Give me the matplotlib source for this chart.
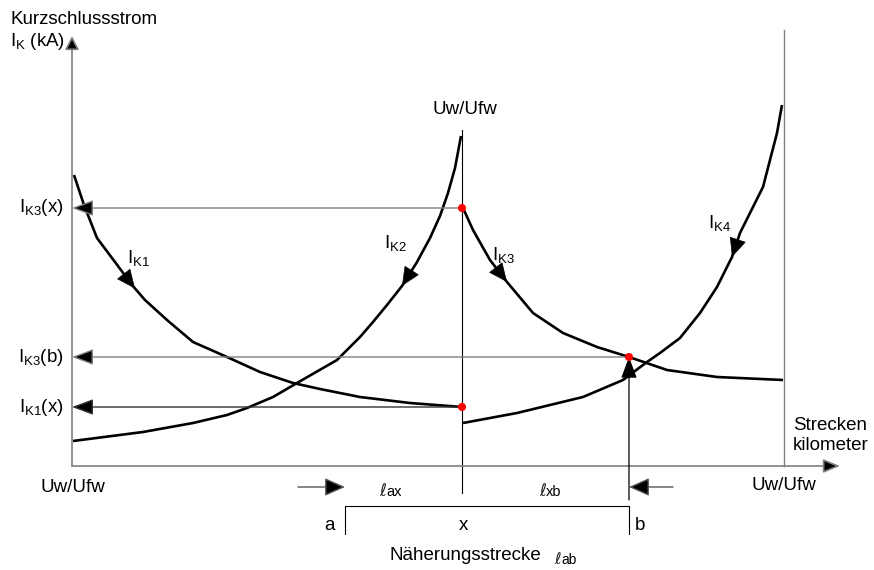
import numpy as np
import matplotlib
matplotlib.use("Agg")
import matplotlib.pyplot as plt

plt.rcParams['font.family'] = ['Liberation Sans', 'DejaVu Sans']
plt.rcParams['mathtext.fontset'] = 'custom'
plt.rcParams['mathtext.rm'] = 'Liberation Sans'
plt.rcParams['mathtext.it'] = 'Liberation Sans'

# curves (x = Streckenkilometer, y = Kurzschlussstrom)
ik1_x = [2, 12, 25, 43, 60, 73, 95, 121, 155, 188, 221, 248, 288, 338, 390]
ik1_y = [291, 261, 228, 204, 181, 166, 146, 124, 109, 94, 83, 77, 69, 63, 59]
ik2_x = [1, 71, 121, 155, 175, 201, 225, 265, 288, 301, 315, 330, 345, 358, 368, 376, 383, 389]
ik2_y = [25, 34, 43, 51, 58, 69, 83, 106, 129, 144, 161, 180, 204, 228, 250, 273, 298, 330]
ik3_x = [391, 401, 418, 435, 461, 491, 525, 557, 595, 645, 711]
ik3_y = [258, 236, 206, 184, 153, 133, 119, 109, 96, 89, 86]
ik4_x = [391, 445, 511, 551, 575, 588, 608, 628, 645, 660, 668, 681, 691, 698, 705, 710]
ik4_y = [43, 53, 69, 86, 104, 113, 128, 153, 179, 209, 233, 259, 279, 306, 333, 361]

x_pos = 390      # Punkt x (Uw/Ufw)
b_pos = 557      # Punkt b
end_pos = 712    # Uw/Ufw rechts
ik3_x_val = 258  # I_K3(x)
ik3_b_val = 109  # I_K3(b)
ik1_x_val = 59   # I_K1(x)

fig = plt.figure(figsize=(8.74, 5.70), dpi=100)
ax = fig.add_axes([0, 0, 1, 1])
ax.set_xlim(-72, 802)
ax.set_ylim(-104, 466)
ax.axis('off')

FS = 13.5
grey = '#7f7f7f'


def arrow(p_from, p_to, color='k', hl=0.94, hw=0.35, lw=0.9, ms=14):
    ax.annotate('', xy=p_to, xytext=p_from,
                arrowprops=dict(arrowstyle=f'-|>,head_length={hl},head_width={hw}',
                                color=color, lw=lw, mutation_scale=ms,
                                shrinkA=0, shrinkB=0, fc='k', ec=color))


def curve_arrow(xs, ys, x_tip, dx):
    y_tip = np.interp(x_tip, xs, ys)
    y_tail = np.interp(x_tip - dx, xs, ys)
    ax.annotate('', xy=(x_tip, y_tip), xytext=(x_tip - dx, y_tail),
                arrowprops=dict(arrowstyle='-|>,head_length=1.0,head_width=0.45',
                                color='k', lw=0.5, mutation_scale=12.5,
                                shrinkA=0, shrinkB=0))


# axes
arrow((0, 0), (0, 430), color=grey, hl=0.75, hw=0.38, lw=1.2, ms=11)
arrow((0, 0), (768, 0), color=grey, hl=0.85, hw=0.35, lw=1.2, ms=12)
ax.plot([end_pos, end_pos], [0, 436], color=grey, lw=1.0)
ax.plot([x_pos, x_pos], [-27, 336], color='k', lw=0.8)

# horizontal read-off arrows
arrow((x_pos, ik3_x_val), (0, ik3_x_val), color=grey, lw=1.0)
arrow((b_pos, ik3_b_val), (0, ik3_b_val), color=grey, lw=1.0)
arrow((x_pos, ik1_x_val), (0, ik1_x_val), color='#333333', lw=1.0)
arrow((b_pos, -34), (b_pos, ik3_b_val), color='k', lw=0.9)

# curves
for xs, ys in [(ik1_x, ik1_y), (ik2_x, ik2_y), (ik3_x, ik3_y), (ik4_x, ik4_y)]:
    ax.plot(xs, ys, color='k', lw=1.9, solid_capstyle='butt', solid_joinstyle='round')

curve_arrow(ik1_x, ik1_y, 63, 8)
curve_arrow(ik2_x, ik2_y, 330, -6)
curve_arrow(ik3_x, ik3_y, 435, 8)
curve_arrow(ik4_x, ik4_y, 660, -5)

ax.scatter([x_pos, x_pos, b_pos], [ik3_x_val, ik1_x_val, ik3_b_val],
           color='red', s=34, zorder=5, edgecolors='none')

# curve labels
ax.text(66, 208, r'$\mathrm{I_{K1}}$', fontsize=FS, ha='center', va='center')
ax.text(323, 223, r'$\mathrm{I_{K2}}$', fontsize=FS, ha='center', va='center')
ax.text(431, 211, r'$\mathrm{I_{K3}}$', fontsize=FS, ha='center', va='center')
ax.text(648, 243, r'$\mathrm{I_{K4}}$', fontsize=FS, ha='center', va='center')

# y value labels
ax.text(-8, ik3_x_val, r'$\mathrm{I_{K3}}$(x)', fontsize=FS, ha='right', va='center')
ax.text(-8, ik3_b_val, r'$\mathrm{I_{K3}}$(b)', fontsize=FS, ha='right', va='center')
ax.text(-8, ik1_x_val, r'$\mathrm{I_{K1}}$(x)', fontsize=FS, ha='right', va='center')

# axis titles
ax.text(-62, 446, 'Kurzschlussstrom', fontsize=FS, ha='left', va='center')
ax.text(-62, 424, r'$\mathrm{I_K}$ (kA)', fontsize=FS, ha='left', va='center')
ax.text(721, 41, 'Strecken', fontsize=FS, ha='left', va='center')
ax.text(721, 21, 'kilometer', fontsize=FS, ha='left', va='center')

ax.text(x_pos + 3, 356, 'Uw/Ufw', fontsize=FS, ha='center', va='center')
ax.text(-32, -22, 'Uw/Ufw', fontsize=FS, ha='left', va='center')
ax.text(end_pos, -20, 'Uw/Ufw', fontsize=FS, ha='center', va='center')


def ell_label(x, y, sub, fs=10.5):
    ax.text(x, y, '\u2113', fontsize=fs + 1.5, family=['DejaVu Sans'],
            style='italic', ha='right', va='baseline', color='#222222')
    ax.text(x, y, sub, fontsize=fs, ha='left', va='baseline')


# Näherungsstrecke
arrow((226, -21), (273, -21), color='#555555', hl=0.9, hw=0.4, lw=1.0)
arrow((601, -21), (b_pos, -21), color='#555555', hl=0.9, hw=0.4, lw=1.0)
ell_label(314, -30, 'ax')
ell_label(474, -30, 'xb')
ax.plot([273, 273, b_pos, b_pos], [-68, -40, -40, -68], color='k', lw=0.8)
ax.text(263, -60, 'a', fontsize=FS, ha='right', va='center')
ax.text(x_pos + 1, -60, 'x', fontsize=FS, ha='center', va='center')
ax.text(b_pos + 6, -60, 'b', fontsize=FS, ha='left', va='center')
ax.text(393, -90, 'Näherungsstrecke', fontsize=FS, ha='center', va='center')
ell_label(489, -98, 'ab', fs=10)

fig.savefig('out.png', dpi=100)
